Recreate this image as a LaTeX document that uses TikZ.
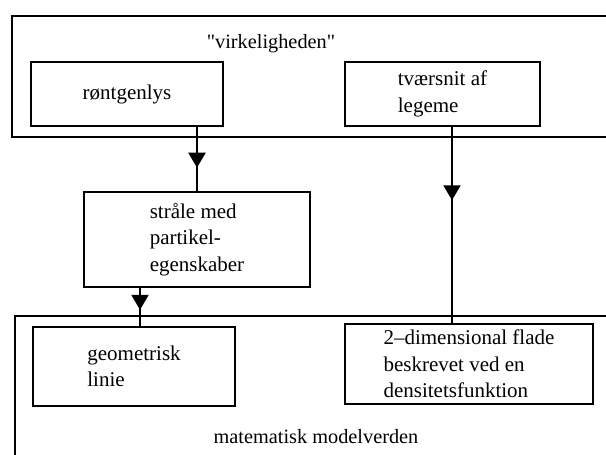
\documentclass[tikz,border=0pt]{standalone}
\usepackage{fontspec}
\setmainfont{Liberation Serif}
\usetikzlibrary{arrows.meta,decorations.markings}
\tikzset{
  box/.style={draw, line width=1.8pt, inner sep=0pt, align=left, font=\fontsize{21}{26.5}\selectfont},
  frame/.style={line width=1.6pt},
  lbl/.style={font=\fontsize{20.3}{26}\selectfont, inner sep=0pt, anchor=base},
  conn/.style={line width=2pt},
  midarrow/.style={decoration={markings, mark=at position #1 with {\arrow{Triangle[length=15pt,width=17pt]}}}, postaction={decorate}}
}
\begin{document}
\begin{tikzpicture}[x=1pt,y=-1pt]
\useasboundingbox (0,0) rectangle (606,455);
% frames
\draw[frame] (606,16) -- (12,16) -- (12,137) -- (606,137);
\draw[frame] (606,316) -- (15,316) -- (15,455);
% labels
\node[lbl] (real) at (271,48) {\textquotedbl virkeligheden\textquotedbl};
\node[lbl] (model) at (316,443) {matematisk modelverden};
% boxes
\node[box, minimum width=192pt, minimum height=64pt] (ront) at (127,94) {røntgenlys};
\node[box, minimum width=195pt, minimum height=64pt] (tvaer) at (442.5,94) {tværsnit af\\legeme};
\node[box, minimum width=226pt, minimum height=95pt] (straale) at (197,239.5) {stråle med\\partikel-\\egenskaber};
\node[box, minimum width=202pt, minimum height=79pt] (geo) at (134,366.5) {geometrisk\\linie};
\node[box, minimum width=248pt, minimum height=80pt] (dim) at (469,364) {2–dimensional flade\\beskrevet ved en\\densitetsfunktion};
% connectors
\draw[conn, midarrow=0.636] (ront.south -| straale.north) -- (straale.north);
\draw[conn, midarrow=0.374] ([xshift=9.5pt]tvaer.south) -- ([xshift=9.5pt]tvaer.south |- dim.north);
\draw[conn, midarrow=0.575] ([xshift=-57pt]straale.south) -- ([xshift=-57pt]straale.south |- geo.north);
\end{tikzpicture}
\end{document}
